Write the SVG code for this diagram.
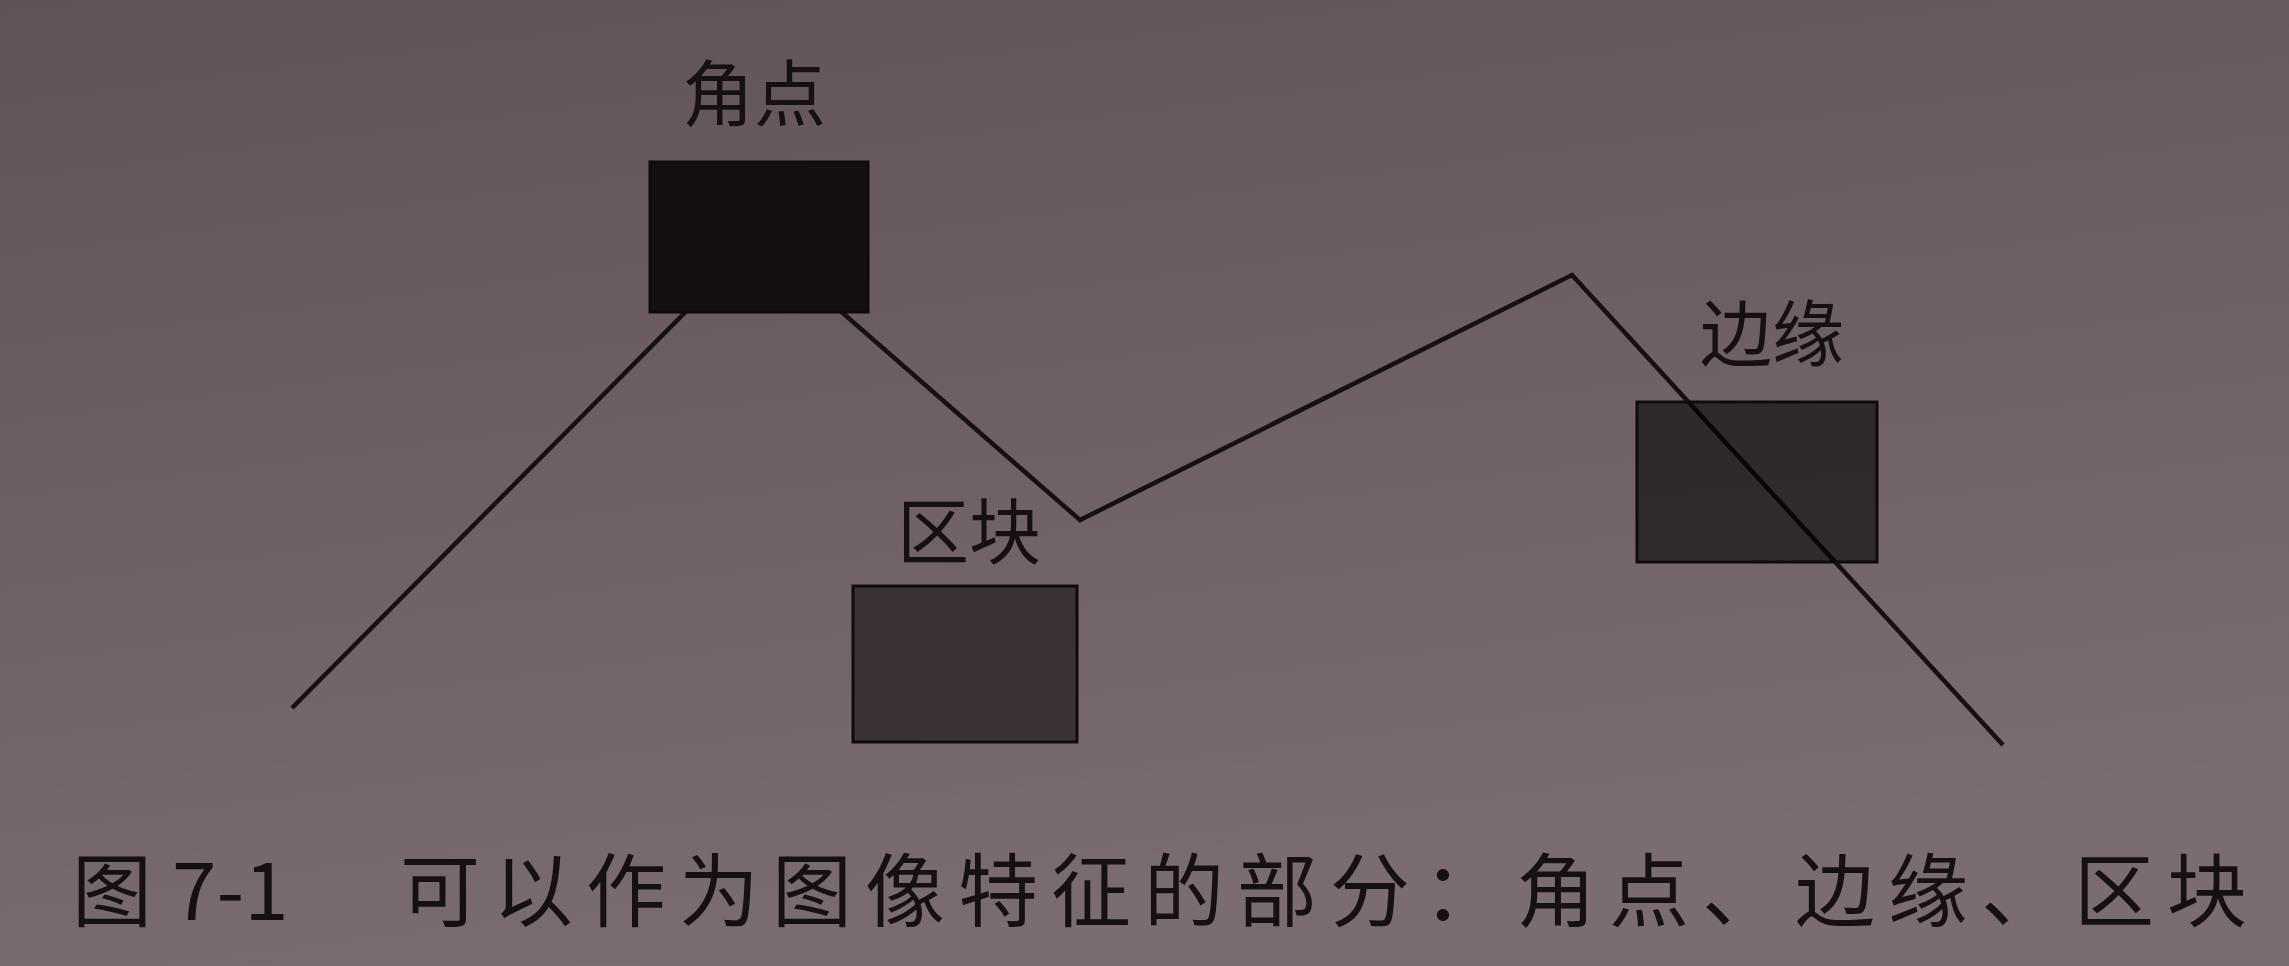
<svg xmlns="http://www.w3.org/2000/svg" width="2289" height="966" viewBox="0 0 2289 966">
<defs>
<linearGradient id="bg" x1="0" y1="0" x2="0.3" y2="1">
<stop offset="0" stop-color="#615259"/>
<stop offset="1" stop-color="#7a6c72"/>
</linearGradient>
<style>
.lbl{font-family:"Noto Sans CJK SC","Noto Sans",sans-serif;fill:#141013;text-anchor:middle;font-size:72px}
.cap{font-family:"Noto Sans CJK SC","Noto Sans",sans-serif;fill:#141013;font-size:80px}
.ln{fill:none;stroke:#141013;stroke-width:4.5;stroke-linejoin:miter}
.box{stroke:#0e0b0d;stroke-width:3}
</style>
</defs>
<rect x="0" y="0" width="2289" height="966" fill="url(#bg)"/>
<g id="connectors">
<polyline class="ln" points="292,708 758,239 1080,520 1572,275 2003,745"/>
</g>
<g id="corner">
<rect class="box" x="650" y="162" width="218" height="150" fill="#141012"/>
<text class="lbl" x="754" y="120">角点</text>
</g>
<g id="block">
<rect class="box" x="853" y="586" width="224" height="156" fill="#3a3236"/>
<text class="lbl" x="969" y="558">区块</text>
</g>
<g id="edge">
<rect class="box" x="1637" y="402" width="240" height="160" fill="#000" fill-opacity="0.58"/>
<text class="lbl" x="1772" y="360">边缘</text>
</g>
<g id="caption">
<text class="cap" x="72" y="920">图</text>
<text class="cap" x="172" y="920" font-family="Liberation Sans, sans-serif">7-1</text>
<text class="cap" x="400" y="920" letter-spacing="13">可以作为图像特征的部分：角点、边缘、区块</text>
</g>
</svg>
